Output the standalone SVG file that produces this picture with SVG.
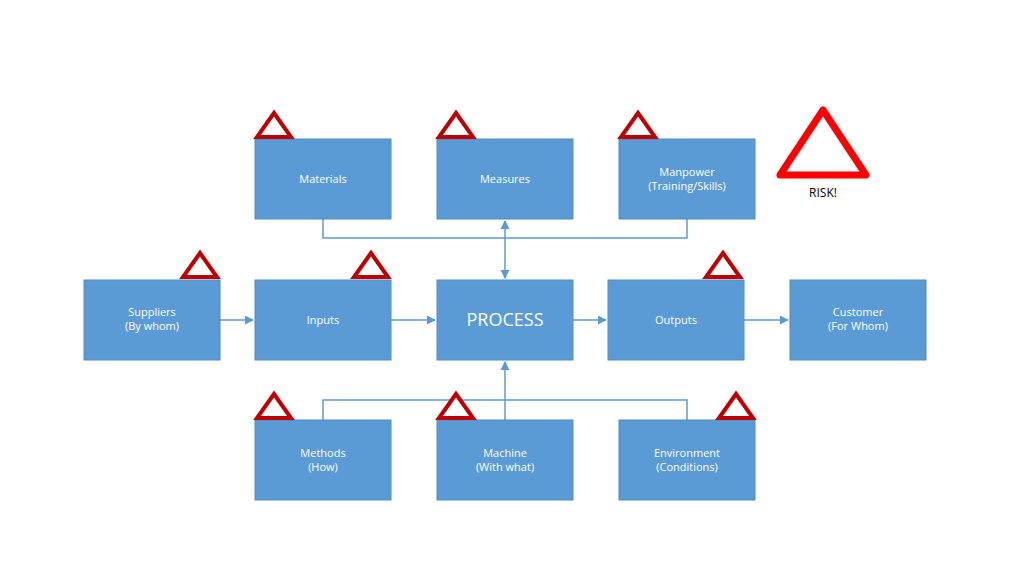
<svg xmlns="http://www.w3.org/2000/svg" width="1024" height="576" viewBox="0 0 1024 576">
<style>
.box{fill:#5b9bd5;stroke:#4f8cc4;stroke-width:1}
.t{font-family:"Open Sans","Liberation Sans",sans-serif;font-size:11px;fill:#fff;text-anchor:middle}
.big{font-size:18px}
.tri{fill:#fff;stroke:#c00000;stroke-width:4;stroke-linejoin:miter}
.c{stroke:#5b9bd5;stroke-width:1.5;fill:none}
</style>
<defs>
<marker id="a" viewBox="0 0 10 10" refX="9" refY="5" markerWidth="6" markerHeight="6" orient="auto-start-reverse"><path d="M0,0L10,5L0,10z" fill="#5b9bd5"/></marker>
</defs>
<rect width="1024" height="576" fill="#fff"/>
<g id="connectors">
<path class="c" d="M323,219V238H687V219"/>
<path class="c" d="M505,221V278" marker-start="url(#a)" marker-end="url(#a)"/>
<path class="c" d="M323,420V400H687V420"/>
<path class="c" d="M505,420V362" marker-end="url(#a)"/>
<path class="c" d="M220,320H253" marker-end="url(#a)"/>
<path class="c" d="M391,320H435" marker-end="url(#a)"/>
<path class="c" d="M573,320H606" marker-end="url(#a)"/>
<path class="c" d="M744,320H788" marker-end="url(#a)"/>
</g>
<g id="materials"><rect class="box" x="255" y="139" width="136" height="80"/><text class="t" x="323" y="183">Materials</text></g>
<g id="measures"><rect class="box" x="437" y="139" width="136" height="80"/><text class="t" x="505" y="183">Measures</text></g>
<g id="manpower"><rect class="box" x="619" y="139" width="136" height="80"/><text class="t" x="687" y="176">Manpower</text><text class="t" x="687" y="190">(Training/Skills)</text></g>
<g id="suppliers"><rect class="box" x="84" y="280" width="136" height="80"/><text class="t" x="152" y="316">Suppliers</text><text class="t" x="152" y="330">(By whom)</text></g>
<g id="inputs"><rect class="box" x="255" y="280" width="136" height="80"/><text class="t" x="323" y="324">Inputs</text></g>
<g id="process"><rect class="box" x="437" y="280" width="136" height="80"/><text class="t big" x="505" y="326">PROCESS</text></g>
<g id="outputs"><rect class="box" x="608" y="280" width="136" height="80"/><text class="t" x="676" y="324">Outputs</text></g>
<g id="customer"><rect class="box" x="790" y="280" width="136" height="80"/><text class="t" x="858" y="316">Customer</text><text class="t" x="858" y="330">(For Whom)</text></g>
<g id="methods"><rect class="box" x="255" y="420" width="136" height="80"/><text class="t" x="323" y="457">Methods</text><text class="t" x="323" y="471">(How)</text></g>
<g id="machine"><rect class="box" x="437" y="420" width="136" height="80"/><text class="t" x="505" y="457">Machine</text><text class="t" x="505" y="471">(With what)</text></g>
<g id="environment"><rect class="box" x="619" y="420" width="136" height="80"/><text class="t" x="687" y="457">Environment</text><text class="t" x="687" y="471">(Conditions)</text></g>
<g id="risks">
<path class="tri" d="M274,113L291,137H257Z"/>
<path class="tri" d="M456,113L473,137H439Z"/>
<path class="tri" d="M638,113L655,137H621Z"/>
<path class="tri" d="M200,253L217,277H183Z"/>
<path class="tri" d="M371,253L388,277H354Z"/>
<path class="tri" d="M723,253L740,277H706Z"/>
<path class="tri" d="M274,394L291,418H257Z"/>
<path class="tri" d="M456,394L473,418H439Z"/>
<path class="tri" d="M736,394L753,418H719Z"/>
</g>
<g id="legend">
<path d="M823,110L866,175H780Z" fill="#fff" stroke="#ff0000" stroke-width="7" stroke-linejoin="round"/>
<text x="823" y="197" font-family="'Open Sans','Liberation Sans',sans-serif" font-size="12" text-anchor="middle" fill="#000">RISK!</text>
</g>
</svg>
